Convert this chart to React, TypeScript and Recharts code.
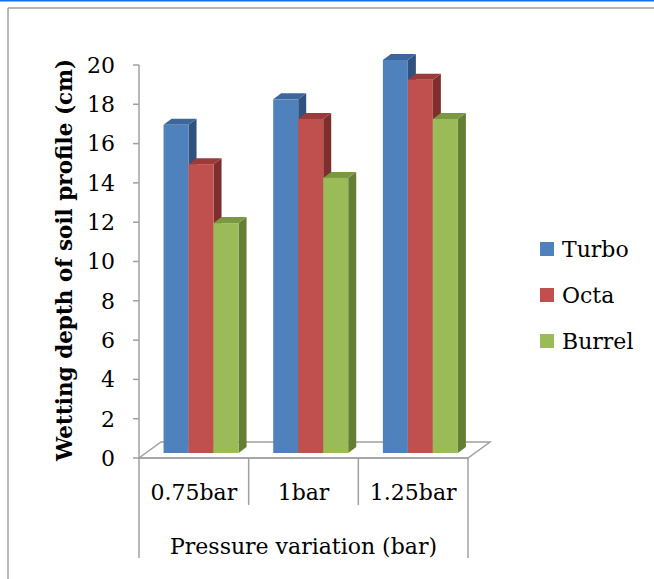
import React from "react";
import { BarChart, Bar, XAxis, YAxis } from "recharts";

// wetting depth (cm) per nozzle type at each operating pressure
const categories = ["0.75bar", "1bar", "1.25bar"];
const turbo = [16.7, 18, 20];
const octa = [14.7, 17, 19];
const burrel = [11.7, 14, 17];
const yTicks = [0, 2, 4, 6, 8, 10, 12, 14, 16, 18, 20];

const series = [
  { key: "Turbo", front: "#4F81BD", top: "#3D679C", side: "#30527D" },
  { key: "Octa", front: "#C0504D", top: "#9A3B39", side: "#7E2F2D" },
  { key: "Burrel", front: "#9BBB59", top: "#7A9742", side: "#657E35" },
];

const data = categories.map((cat, i) => ({
  cat,
  Turbo: turbo[i],
  Octa: octa[i],
  Burrel: burrel[i],
}));

const W = 654;
const H = 579;
const PLOT_LEFT = 139;
const PLOT_TOP = 65;
const PLOT_RIGHT = 468;
const PLOT_BOTTOM = 458;
const Y_AXIS_W = 60;
const X_AXIS_H = 110;
const FLOOR_DX = 22;
const FLOOR_DY = -16;
const BAND = (PLOT_RIGHT - PLOT_LEFT) / categories.length;

const GRID = "#A0A0A0";
const FONT = "'DejaVu Serif', serif";

// front face sits a little way back on the floor, plus a thin depth
const SHIFT_X = 7;
const SHIFT_Y = -5;
const DEPTH_X = 8;
const DEPTH_Y = -6;

const Box3D = (props: any) => {
  const { x, y, width, height, colors } = props;
  if (!height || height <= 0) return null;
  const x0 = x + SHIFT_X;
  const y0 = y + SHIFT_Y;
  const x1 = x0 + width;
  const y1 = y0 + height;
  const topFace = `${x0},${y0} ${x0 + DEPTH_X},${y0 + DEPTH_Y} ${x1 + DEPTH_X},${y0 + DEPTH_Y} ${x1},${y0}`;
  const sideFace = `${x1},${y0} ${x1 + DEPTH_X},${y0 + DEPTH_Y} ${x1 + DEPTH_X},${y1 + DEPTH_Y} ${x1},${y1}`;
  return (
    <g>
      <polygon points={sideFace} fill={colors.side} />
      <polygon points={topFace} fill={colors.top} />
      <rect x={x0} y={y0} width={width} height={height} fill={colors.front} />
    </g>
  );
};

const CategoryTick = (props: any) => {
  const { x, index, payload } = props;
  const last = index === categories.length - 1;
  return (
    <g>
      <line
        x1={x - BAND / 2}
        x2={x - BAND / 2}
        y1={PLOT_BOTTOM}
        y2={index === 0 ? PLOT_BOTTOM + 100 : PLOT_BOTTOM + 47}
        stroke={GRID}
        strokeWidth={1.5}
      />
      {last && (
        <line
          x1={x + BAND / 2}
          x2={x + BAND / 2}
          y1={PLOT_BOTTOM}
          y2={PLOT_BOTTOM + 100}
          stroke={GRID}
          strokeWidth={1.5}
        />
      )}
      <text x={x} y={PLOT_BOTTOM + 42} textAnchor="middle" fontSize={22} fontFamily={FONT} fill="#000">
        {payload.value}
      </text>
    </g>
  );
};

const LegendBox = () => (
  <div
    style={{
      position: "absolute",
      left: 540,
      top: 235,
      display: "flex",
      flexDirection: "column",
      gap: 18,
    }}
  >
    {series.map((s) => (
      <div key={s.key} style={{ display: "flex", alignItems: "center", height: 28 }}>
        <span style={{ width: 14, height: 14, background: s.front, marginRight: 8 }} />
        <span style={{ fontFamily: FONT, fontSize: 22, color: "#000" }}>{s.key}</span>
      </div>
    ))}
  </div>
);

export default function App() {
  const floor = [
    [PLOT_LEFT, PLOT_BOTTOM],
    [PLOT_RIGHT, PLOT_BOTTOM],
    [PLOT_RIGHT + FLOOR_DX, PLOT_BOTTOM + FLOOR_DY],
    [PLOT_LEFT + FLOOR_DX, PLOT_BOTTOM + FLOOR_DY],
  ]
    .map((p) => p.join(","))
    .join(" ");

  return (
    <div style={{ position: "absolute", left: 0, top: 0, width: W, height: H, background: "#fff" }}>
      {/* frame and chart floor */}
      <svg width={W} height={H} style={{ position: "absolute", left: 0, top: 0 }}>
        <line x1={0} x2={W} y1={0.75} y2={0.75} stroke="#1570EC" strokeWidth={1.5} />
        <line x1={8} x2={W} y1={8} y2={8} stroke={GRID} strokeWidth={1.5} />
        <line x1={8} x2={8} y1={8} y2={H} stroke={GRID} strokeWidth={1.5} />
        <polygon points={floor} fill="none" stroke={GRID} strokeWidth={1.5} />
      </svg>
      <div style={{ position: "absolute", left: 0, top: 0 }}>
        <BarChart
          width={W}
          height={H}
          data={data}
          margin={{
            top: PLOT_TOP,
            right: W - PLOT_RIGHT,
            bottom: H - PLOT_BOTTOM - X_AXIS_H,
            left: PLOT_LEFT - Y_AXIS_W,
          }}
          barCategoryGap="16%"
          barGap={0}
        >
          <XAxis
            dataKey="cat"
            height={X_AXIS_H}
            axisLine={{ stroke: GRID, strokeWidth: 1.5 }}
            tickLine={false}
            tick={<CategoryTick />}
            interval={0}
            label={{
              value: "Pressure variation (bar)",
              position: "insideBottom",
              offset: 14,
              fontSize: 22,
              fontFamily: FONT,
              fill: "#000",
            }}
          />
          <YAxis
            width={Y_AXIS_W}
            domain={[0, 20]}
            ticks={yTicks}
            interval={0}
            axisLine={{ stroke: GRID, strokeWidth: 1.5 }}
            tickLine={{ stroke: GRID, strokeWidth: 1.5 }}
            tickSize={6}
            tickMargin={18}
            tick={{ fontSize: 22, fontFamily: FONT, fill: "#000" }}
          />
          {series.map((s) => (
            <Bar
              key={s.key}
              dataKey={s.key}
              isAnimationActive={false}
              shape={(p: any) => <Box3D {...p} colors={s} />}
            />
          ))}
        </BarChart>
      </div>
      <LegendBox />
      {/* rotated y-axis title */}
      <div
        style={{
          position: "absolute",
          left: 64,
          top: 260,
          transform: "translate(-50%, -50%) rotate(-90deg)",
          whiteSpace: "nowrap",
          fontFamily: FONT,
          fontWeight: "bold",
          fontSize: 21.5,
          color: "#000",
        }}
      >
        Wetting depth of soil profile (cm)
      </div>
    </div>
  );
}
